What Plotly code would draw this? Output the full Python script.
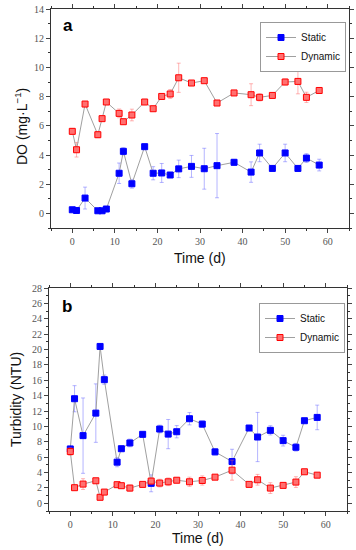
import plotly.graph_objects as go

days = [0, 1, 3, 6, 7, 8, 11, 12, 14, 17, 19, 21, 23, 25, 28, 31, 34, 38, 42, 44, 47, 50, 53, 55, 58]

do_static = [0.25, 0.2, 1.05, 0.18, 0.18, 0.3, 2.75, 4.25, 2.03, 4.57, 2.75, 2.77, 2.63, 3.05, 3.22,
             3.06, 3.27, 3.5, 2.83, 4.14, 3.08, 4.14, 3.08, 3.79, 3.31]
do_static_err = [0.05, 0.05, 0.75, 0.05, 0.05, 0.1, 0.7, 0.25, 0.3, 0.1, 0.45, 0.65, 0.1, 0.6, 0.75,
                 1.4, 2.2, 0.2, 0.7, 0.6, 0.1, 0.6, 0.2, 0.3, 0.4]
do_dynamic = [5.62, 4.36, 7.49, 5.39, 6.49, 7.63, 6.85, 6.28, 6.74, 7.63, 7.17, 8.01, 8.18, 9.29, 8.93,
              9.09, 7.56, 8.25, 8.13, 7.95, 8.08, 9.0, 9.04, 7.95, 8.42]
do_dynamic_err = [0.2, 0.5, 0.1, 0.2, 0.1, 0.1, 0.3, 0.1, 0.4, 0.1, 0.1, 0.1, 0.3, 1.0, 0.1,
                  0.1, 0.1, 0.1, 0.75, 0.25, 0.1, 0.2, 0.85, 0.35, 0.1]

turb_static = [7.07, 13.6, 8.8, 11.73, 20.4, 16.08, 5.35, 7.1, 7.85, 8.97, 2.6, 9.66, 9.0, 9.31, 11.0,
               10.3, 6.69, 5.43, 9.79, 8.62, 9.49, 8.15, 7.29, 10.74, 11.17]
turb_static_err = [0.3, 1.7, 4.9, 3.8, 0.2, 0.6, 0.6, 0.3, 0.5, 0.1, 1.1, 0.5, 1.9, 0.8, 0.8,
                   0.4, 0.4, 1.6, 0.1, 3.2, 0.6, 0.7, 0.5, 0.1, 1.6]
turb_dynamic = [6.73, 2.03, 2.5, 2.93, 0.78, 1.46, 2.42, 2.29, 1.98, 2.46, 2.89, 2.63, 2.8, 3.0, 2.8,
                2.97, 3.4, 4.31, 2.46, 3.06, 1.98, 2.33, 2.76, 4.1, 3.66]
turb_dynamic_err = [0.5, 0.1, 0.7, 0.2, 0.1, 0.1, 0.1, 0.1, 0.4, 0.1, 0.4, 0.5, 0.5, 0.1, 0.6,
                    0.6, 0.1, 1.3, 0.1, 0.7, 0.7, 0.1, 0.7, 0.1, 0.1]

W, H = 356, 550
BLUE = "#0000ff"
RED = "#ff0000"
LINE = "#a0a0a0"


def px(x):
    return x / W


def py(y):
    return 1 - y / H


def series(x, y, err, name, color, errcolor, fillcolor, xa, ya, legend):
    return go.Scatter(
        x=x, y=y, name=name, mode="lines+markers",
        xaxis=xa, yaxis=ya, legend=legend,
        line=dict(color=LINE, width=1),
        marker=dict(symbol="square", size=6, color=fillcolor, line=dict(color=color, width=1)),
        error_y=dict(type="data", array=err, visible=True, color=errcolor, thickness=1, width=2),
    )


fig = go.Figure()
fig.add_trace(series(days, do_static, do_static_err, "Static", BLUE, "rgba(90,90,255,0.45)", BLUE, "x", "y", "legend"))
fig.add_trace(series(days, do_dynamic, do_dynamic_err, "Dynamic", RED, "rgba(255,90,90,0.45)", "#ff7070", "x", "y", "legend"))
fig.add_trace(series(days, turb_static, turb_static_err, "Static", BLUE, "rgba(90,90,255,0.45)", BLUE, "x2", "y2", "legend2"))
fig.add_trace(series(days, turb_dynamic, turb_dynamic_err, "Dynamic", RED, "rgba(255,90,90,0.45)", "#ff7070", "x2", "y2", "legend2"))

tickfont = dict(family="Liberation Serif", size=10, color="#555555")
common_x = dict(range=[-5, 65], dtick=10, tick0=0, ticks="outside", ticklen=4, tickwidth=1,
                showline=True, linecolor="#333333", linewidth=1, mirror="ticks", showgrid=False,
                zeroline=False, tickfont=tickfont, automargin=False,
                minor=dict(dtick=5, tick0=0, ticks="outside", ticklen=2, tickcolor="#333333"))
common_y = dict(ticks="outside", ticklen=4, tickwidth=1, showline=True, linecolor="#333333",
                linewidth=1, mirror="ticks", showgrid=False, zeroline=False, tickfont=tickfont,
                automargin=False, dtick=2, tick0=0, ticklabeloverflow="allow",
                minor=dict(dtick=1, ticks="outside", ticklen=2, tickcolor="#333333"))

legend_style = dict(xanchor="left", yanchor="top", bordercolor="#999999", borderwidth=1,
                    bgcolor="white", font=dict(family="Liberation Sans", size=10, color="#111111"),
                    tracegroupgap=0, itemwidth=30)

fig.update_layout(
    width=W, height=H,
    margin=dict(l=0, r=0, t=0, b=0),
    paper_bgcolor="white", plot_bgcolor="white",
    template="none",
    xaxis=dict(common_x, domain=[px(51), px(349)], anchor="y"),
    yaxis=dict(common_y, domain=[py(228), py(9)], range=[-1, 14], anchor="x"),
    xaxis2=dict(common_x, domain=[px(49), px(347)], anchor="y2"),
    yaxis2=dict(common_y, domain=[py(511), py(288)], range=[-1, 28], anchor="x2"),
    legend=dict(legend_style, x=px(260), y=py(22)),
    legend2=dict(legend_style, x=px(259), y=py(303)),
    showlegend=True,
)

title_font = dict(family="Liberation Sans", size=14, color="#111111")
ann = [
    dict(text="<b>a</b>", x=px(61), y=py(26), font=dict(family="Liberation Sans", size=17, color="black")),
    dict(text="<b>b</b>", x=px(60), y=py(306), font=dict(family="Liberation Sans", size=17, color="black")),
    dict(text="Time (d)", x=px(200), y=py(258), font=title_font, xanchor="center"),
    dict(text="Time (d)", x=px(198), y=py(538), font=title_font, xanchor="center"),
    dict(text="DO (mg·L<sup>−1</sup>)", x=px(21), y=py(127), font=title_font, textangle=-90,
         xanchor="center", yanchor="middle"),
    dict(text="Turbidity (NTU)", x=px(16), y=py(400), font=title_font, textangle=-90,
         xanchor="center", yanchor="middle"),
]
for a in ann:
    a.setdefault("xanchor", "left")
    a.setdefault("yanchor", "middle")
    fig.add_annotation(xref="paper", yref="paper", showarrow=False, **a)

fig.write_html(
    "out.html",
    config={"displayModeBar": False},
    post_script="document.body.style.margin='0';document.body.style.padding='0';",
)
